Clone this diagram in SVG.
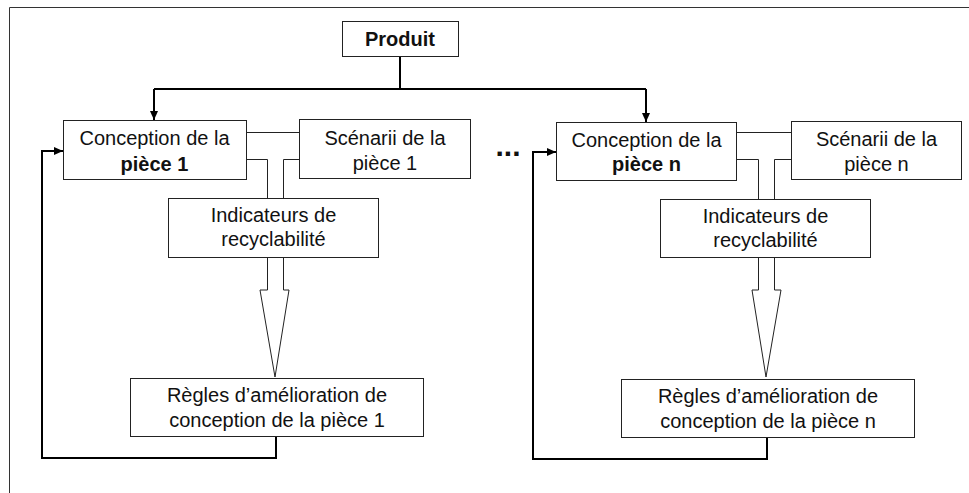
<svg xmlns="http://www.w3.org/2000/svg" width="969" height="493" viewBox="0 0 969 493">
<style>
.box{fill:#fff;stroke:#222;stroke-width:1}
.t{font-family:"Liberation Sans",Arial,sans-serif;font-size:20px;fill:#111;text-anchor:middle}
.b{font-weight:bold}
.thick{fill:none;stroke:#000;stroke-width:2}
.thin{fill:none;stroke:#222;stroke-width:1}
.hollow{fill:#fff;stroke:#222;stroke-width:1}
</style>
<defs>
<marker id="ah" markerUnits="userSpaceOnUse" markerWidth="9" markerHeight="8" refX="9" refY="4" orient="auto">
<path d="M0,0 L9,4 L0,8 z" fill="#000"/>
</marker>
</defs>
<rect width="969" height="493" fill="#fff"/>
<path d="M9.5 493 V7.5 H969" fill="none" stroke="#333" stroke-width="1"/>
<g id="connectors">
<path class="thick" d="M400 56 V89"/>
<path class="thick" d="M154 89 H646"/>
<path class="thick" d="M154 89 V120" marker-end="url(#ah)"/>
<path class="thick" d="M646 89 V122" marker-end="url(#ah)"/>
<path class="thin" d="M246 132.5 H299"/>
<path class="thin" d="M246 159.5 H267.5 V198"/>
<path class="thin" d="M299 159.5 H283.5 V198"/>
<path class="thin" d="M736 132.5 H791"/>
<path class="thin" d="M736 159.5 H758.5 V199"/>
<path class="thin" d="M791 159.5 H774.5 V199"/>
<polygon class="hollow" points="267.5,257 267.5,290 260,290 275,377 289,290 283.5,290 283.5,257"/>
<polygon class="hollow" points="758.5,257 758.5,290 752,290 766,377 781,290 774.5,290 774.5,257"/>
<path class="thick" d="M276 436 V458 H42 V151 H63" marker-end="url(#ah)"/>
<path class="thick" d="M767 437 V459 H533 V152 H556" marker-end="url(#ah)"/>
</g>
<g id="produit">
<rect class="box" x="342.5" y="21.5" width="116" height="35"/>
<text class="t b" x="400" y="46">Produit</text>
</g>
<g id="conception1">
<rect class="box" x="63.5" y="120.5" width="183" height="59"/>
<text class="t" x="154.5" y="145">Conception de la</text>
<text class="t b" x="154.5" y="171">pièce 1</text>
</g>
<g id="scenarii1">
<rect class="box" x="299.5" y="119.5" width="171" height="59"/>
<text class="t" x="385" y="145">Scénarii de la</text>
<text class="t" x="385" y="170">pièce 1</text>
</g>
<g id="indicateurs1">
<rect class="box" x="168.5" y="198.5" width="210" height="59"/>
<text class="t" x="273.5" y="222">Indicateurs de</text>
<text class="t" x="273.5" y="246">recyclabilité</text>
</g>
<g id="regles1">
<rect class="box" x="130.5" y="378.5" width="293" height="58"/>
<text class="t" x="277" y="402">Règles d’amélioration de</text>
<text class="t" x="277" y="427">conception de la pièce 1</text>
</g>
<g id="dots">
<text class="t b" x="508" y="156" font-size="30" style="font-size:30px">...</text>
</g>
<g id="conceptionn">
<rect class="box" x="556.5" y="122.5" width="180" height="58"/>
<text class="t" x="646.5" y="147">Conception de la</text>
<text class="t b" x="646.5" y="171">pièce n</text>
</g>
<g id="scenariin">
<rect class="box" x="791.5" y="121.5" width="170" height="58"/>
<text class="t" x="876.5" y="146">Scénarii de la</text>
<text class="t" x="876.5" y="171">pièce n</text>
</g>
<g id="indicateursn">
<rect class="box" x="660.5" y="199.5" width="210" height="58"/>
<text class="t" x="765.5" y="223">Indicateurs de</text>
<text class="t" x="765.5" y="247">recyclabilité</text>
</g>
<g id="reglesn">
<rect class="box" x="621.5" y="379.5" width="293" height="58"/>
<text class="t" x="768" y="403">Règles d’amélioration de</text>
<text class="t" x="768" y="428">conception de la pièce n</text>
</g>
</svg>
